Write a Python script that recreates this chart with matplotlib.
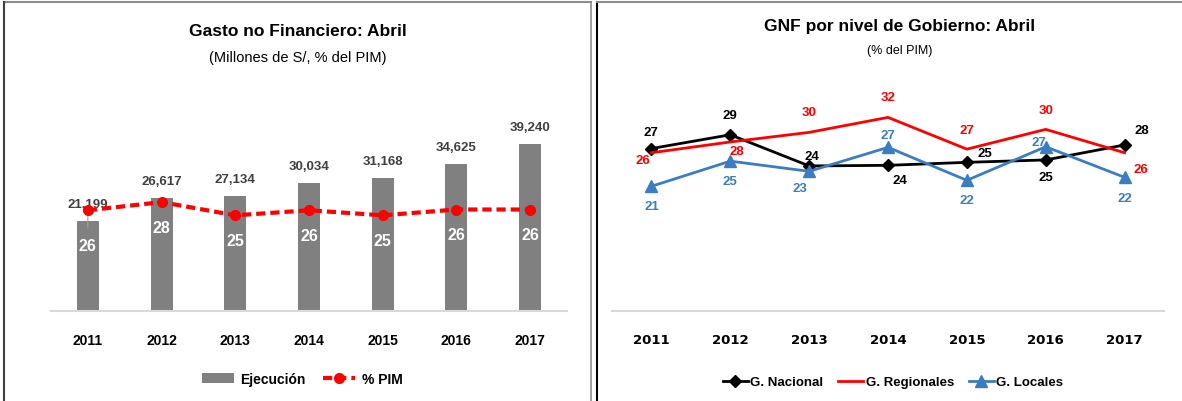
import matplotlib
matplotlib.use("Agg")
import matplotlib.pyplot as plt
from matplotlib.lines import Line2D
import numpy as np

plt.rcParams["font.family"] = ["Liberation Sans", "DejaVu Sans"]

years = ["2011", "2012", "2013", "2014", "2015", "2016", "2017"]

# left panel: gasto no financiero
ejecucion = [21199, 26617, 27134, 30034, 31168, 34625, 39240]
pct_pim = [25.9, 28.0, 24.6, 25.9, 24.6, 26.1, 26.1]

# right panel: GNF by government level (% del PIM)
nacional = [27.1, 29.4, 24.2, 24.3, 24.8, 25.2, 27.7]
regionales = [26.4, 28.2, 29.8, 32.3, 27.0, 30.3, 26.4]
locales = [20.8, 25.0, 23.3, 27.3, 21.8, 27.4, 22.3]

W, H = 1182, 402
fig = plt.figure(figsize=(W / 100, H / 100), dpi=100)


def box(x0, x1, ytop, ybot):
    # axes rectangle from pixel coords
    return [x0 / W, 1 - ybot / H, (x1 - x0) / W, (ybot - ytop) / H]


def fline(x0, y0, x1, y1, color, lw):
    fig.add_artist(Line2D([x0 / W, x1 / W], [1 - y0 / H, 1 - y1 / H],
                          color=color, lw=lw, transform=fig.transFigure))


# panel borders
fline(4, 3, 591, 3, "#8c8c8c", 1.5)
fline(4, 3, 4, 402, "#404040", 1.5)
fline(591, 3, 591, 402, "#8c8c8c", 1.2)
fline(597, 3, 597, 402, "#000000", 1.5)
fline(597, 3, 1182, 3, "#8c8c8c", 1.5)

x = np.arange(len(years))

# ---------------- left chart ----------------
ax = fig.add_axes(box(51, 567, 95, 312))
ax.bar(x, ejecucion, width=0.3, color="#808080", label="Ejecución", zorder=1)
ax.set_xlim(-0.5, 6.5)
ax.set_ylim(0, 51000)
for i, v in enumerate(ejecucion):
    if i == 0:
        ax.annotate(f"{v:,}", xy=(i, v * 0.93), xytext=(0, 17 + 0.07 * v * 217 / 51000),
                    textcoords="offset pixels", ha="center", va="center",
                    fontsize=9.5, fontweight="bold", color="#404040",
                    arrowprops=dict(arrowstyle="-", color="#a0a0a0", lw=0.8,
                                    shrinkA=0, shrinkB=0))
    else:
        ax.annotate(f"{v:,}", xy=(i, v), xytext=(0, 17), textcoords="offset pixels",
                    ha="center", va="center", fontsize=9.5, fontweight="bold",
                    color="#404040")

ax2 = ax.twinx()
ax2.plot(x, pct_pim, color="#FF0000", lw=3, ls=(0, (2.2, 1.2)), marker="o",
         markersize=7, label="% PIM", zorder=3)
ax2.set_ylim(0, 55.8)
for i, v in enumerate(pct_pim):
    dy = -35 if i == 0 else -25
    ax2.annotate(f"{v:.0f}", xy=(i, v), xytext=(0, dy), textcoords="offset pixels",
                 ha="center", va="center", fontsize=11.5, fontweight="bold", color="white")

for a in (ax, ax2):
    for s in ("top", "right", "left"):
        a.spines[s].set_visible(False)
    a.set_yticks([])
ax2.spines["bottom"].set_visible(False)
ax.spines["bottom"].set_color("#d9d9d9")
ax.spines["bottom"].set_linewidth(1.5)
ax.set_xticks(x)
ax.set_xticklabels(years, fontsize=10, fontweight="bold")
ax.tick_params(axis="x", length=0, pad=16)

fig.text(298 / W, 1 - 31 / H, "Gasto no Financiero: Abril", ha="center", va="center",
         fontsize=12.5, fontweight="bold")
fig.text(298 / W, 1 - 58 / H, "(Millones de S/, % del PIM)", ha="center", va="center",
         fontsize=10.5)

h1, l1 = ax.get_legend_handles_labels()
h2, l2 = ax2.get_legend_handles_labels()
fig.legend(h1 + h2, l1 + l2, loc="center", bbox_to_anchor=(302 / W, 1 - 380 / H),
           ncol=2, frameon=False, handlelength=2.3, columnspacing=1.2,
           handletextpad=0.5, prop=dict(weight="bold", size=10))

# ---------------- right chart ----------------
bx = fig.add_axes(box(612, 1164, 95, 312))
bx.set_xlim(-0.5, 6.5)
bx.set_ylim(0, 36.2)
bx.plot(x, nacional, color="black", lw=2, marker="D", markersize=6.5, label="G. Nacional")
bx.plot(x, regionales, color="#FF0000", lw=2, label="G. Regionales")
bx.plot(x, locales, color="#3A7DC0", lw=2, marker="^", markersize=8, label="G. Locales")

# label offsets in screen pixels (dx right, dy down)
nac_off = [(0, -17), (0, -20), (3, -10), (12, 15), (18, -9), (0, 17), (17, -15)]
reg_off = [(-9, 7), (7, 9), (0, -20), (0, -20), (0, -19), (0, -19), (16, 16)]
loc_off = [(0, 20), (0, 20), (-9, 17), (0, -12), (0, 20), (-7, -5), (0, 21)]
for vals, offs, col in ((nacional, nac_off, "black"),
                        (regionales, reg_off, "#FF0000"),
                        (locales, loc_off, "#3A7DC0")):
    for i, (v, (dx, dy)) in enumerate(zip(vals, offs)):
        bx.annotate(f"{v:.0f}", xy=(i, v), xytext=(dx, -dy), textcoords="offset pixels",
                    ha="center", va="center", fontsize=9.5, fontweight="bold", color=col)

for s in ("top", "right", "left"):
    bx.spines[s].set_visible(False)
bx.spines["bottom"].set_color("#d9d9d9")
bx.spines["bottom"].set_linewidth(1.5)
bx.set_yticks([])
bx.set_xticks(x)
bx.set_xticklabels(years, fontsize=9.5, fontweight="bold", family="DejaVu Sans")
bx.tick_params(axis="x", length=0, pad=16)

fig.text(900 / W, 1 - 27 / H, "GNF por nivel de Gobierno: Abril", ha="center",
         va="center", fontsize=12.5, fontweight="bold")
fig.text(900 / W, 1 - 51 / H, "(% del PIM)", ha="center", va="center", fontsize=9)

bx.legend(loc="center", bbox_to_anchor=(893 / W, 1 - 383 / H),
          bbox_transform=fig.transFigure, ncol=3, frameon=False, handlelength=1.9,
          columnspacing=1.1, handletextpad=0.2, prop=dict(weight="bold", size=9.5))

fig.savefig("out.png", dpi=100)
